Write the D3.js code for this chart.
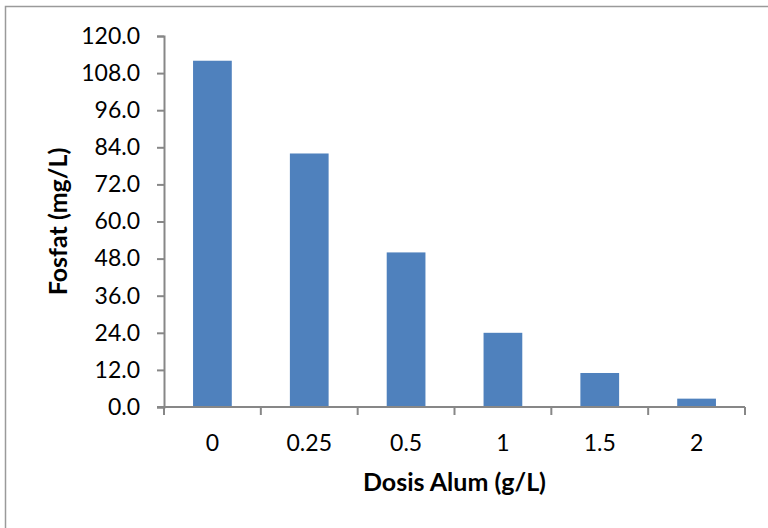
<!DOCTYPE html>
<html><head><meta charset="utf-8">
<script src="https://cdn.jsdelivr.net/npm/d3@7"></script>
<style>body{margin:0;background:#fff}svg{display:block}</style>
</head><body><svg id="c" width="768" height="528"></svg>
<script>
const categories = ["0","0.25","0.5","1","1.5","2"];
const values = [112.0, 82.0, 50.0, 24.0, 11.0, 2.7];
const yTicks = [0,12,24,36,48,60,72,84,96,108,120];
const xTitle = "Dosis Alum (g/L)";
const yTitle = "Fosfat (mg/L)";

const svg = d3.select("#c");
const m = {left:164, right:745, top:36, bottom:407};
const font = "Lato, 'Open Sans', sans-serif";
const axisColor = "#878787";
const fs = 23, tfs = 25;

svg.append("rect").attr("x",5.5).attr("y",6.5).attr("width",800).attr("height",600)
  .attr("fill","none").attr("stroke","#9a9a9a").attr("stroke-width",1.5);

const x = d3.scaleBand().domain(categories).range([m.left,m.right]).paddingInner(0.6).paddingOuter(0.3);
const xb = d3.scaleBand().domain(categories).range([m.left,m.right]);
const y = d3.scaleLinear().domain([0,120]).range([m.bottom,m.top]);

svg.append("g").selectAll("rect").data(values).join("rect")
  .attr("x",(d,i)=>x(categories[i])).attr("width",x.bandwidth())
  .attr("y",d=>y(d)).attr("height",d=>y(0)-y(d)).attr("fill","#4F81BD");

// y axis
const ya = svg.append("g").attr("transform",`translate(${m.left},0)`)
  .call(d3.axisLeft(y).tickValues(yTicks).tickFormat(d3.format(".1f")).tickSize(7).tickPadding(17));
ya.select(".domain").attr("stroke",axisColor).attr("stroke-width",2);
ya.selectAll(".tick line").attr("stroke",axisColor).attr("stroke-width",2);
ya.selectAll("text").attr("font-family",font).attr("font-size",fs).attr("fill","#000");

// x axis
const xa = svg.append("g").attr("transform",`translate(0,${m.bottom})`)
  .call(d3.axisBottom(xb).tickSize(0).tickPadding(28));
xa.select(".domain").attr("stroke",axisColor).attr("stroke-width",2).attr("d",`M${m.left-7},0H${m.right}`);
xa.selectAll("text").attr("font-family",font).attr("font-size",fs).attr("fill","#000");
const bounds = categories.map(c=>xb(c)).concat([m.right]);
xa.selectAll(".bt").data(bounds).join("line").attr("class","bt")
  .attr("x1",d=>d).attr("x2",d=>d).attr("y1",0).attr("y2",8)
  .attr("stroke",axisColor).attr("stroke-width",2);

svg.append("text").attr("x",(m.left+m.right)/2).attr("y",491).attr("text-anchor","middle")
  .attr("font-family",font).attr("font-weight","bold").attr("font-size",tfs).text(xTitle);
svg.append("text").attr("transform",`translate(67,${(m.top+m.bottom)/2}) rotate(-90)`)
  .attr("text-anchor","middle").attr("font-family",font).attr("font-weight","bold").attr("font-size",tfs).text(yTitle);
</script></body></html>
